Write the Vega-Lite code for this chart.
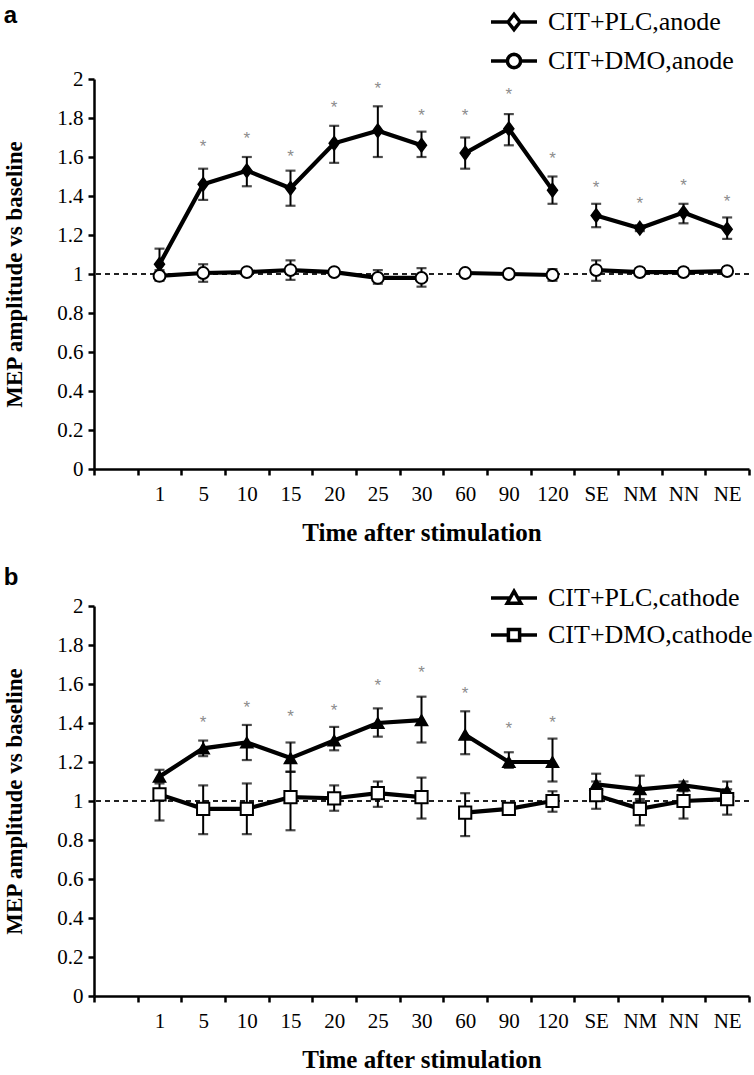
{
  "$schema": "https://vega.github.io/schema/vega-lite/v6.json",
  "background": "white",
  "padding": {"left": 3, "top": 0, "right": 2, "bottom": 0},
  "spacing": 21,
  "datasets": {
    "a": [
      {"series": "CIT+PLC,anode", "grp": "P1", "time": "1", "v": 1.05, "lo": 0.98, "hi": 1.13, "star": null},
      {"series": "CIT+PLC,anode", "grp": "P1", "time": "5", "v": 1.46, "lo": 1.38, "hi": 1.54, "star": 1.65},
      {"series": "CIT+PLC,anode", "grp": "P1", "time": "10", "v": 1.53, "lo": 1.45, "hi": 1.60, "star": 1.69},
      {"series": "CIT+PLC,anode", "grp": "P1", "time": "15", "v": 1.44, "lo": 1.35, "hi": 1.53, "star": 1.60},
      {"series": "CIT+PLC,anode", "grp": "P1", "time": "20", "v": 1.67, "lo": 1.57, "hi": 1.76, "star": 1.85},
      {"series": "CIT+PLC,anode", "grp": "P1", "time": "25", "v": 1.735, "lo": 1.60, "hi": 1.86, "star": 1.95},
      {"series": "CIT+PLC,anode", "grp": "P1", "time": "30", "v": 1.66, "lo": 1.60, "hi": 1.73, "star": 1.81},
      {"series": "CIT+PLC,anode", "grp": "P2", "time": "60", "v": 1.62, "lo": 1.54, "hi": 1.70, "star": 1.81},
      {"series": "CIT+PLC,anode", "grp": "P2", "time": "90", "v": 1.745, "lo": 1.66, "hi": 1.82, "star": 1.92},
      {"series": "CIT+PLC,anode", "grp": "P2", "time": "120", "v": 1.43, "lo": 1.36, "hi": 1.50, "star": 1.59},
      {"series": "CIT+PLC,anode", "grp": "P3", "time": "SE", "v": 1.30, "lo": 1.24, "hi": 1.36, "star": 1.44},
      {"series": "CIT+PLC,anode", "grp": "P3", "time": "NM", "v": 1.235, "lo": 1.22, "hi": 1.25, "star": 1.36},
      {"series": "CIT+PLC,anode", "grp": "P3", "time": "NN", "v": 1.315, "lo": 1.26, "hi": 1.36, "star": 1.45},
      {"series": "CIT+PLC,anode", "grp": "P3", "time": "NE", "v": 1.23, "lo": 1.18, "hi": 1.29, "star": 1.37},
      {"series": "CIT+DMO,anode", "grp": "D1", "time": "1", "v": 0.99, "lo": 0.965, "hi": 1.02, "star": null},
      {"series": "CIT+DMO,anode", "grp": "D1", "time": "5", "v": 1.005, "lo": 0.96, "hi": 1.05, "star": null},
      {"series": "CIT+DMO,anode", "grp": "D1", "time": "10", "v": 1.01, "lo": 1.0, "hi": 1.02, "star": null},
      {"series": "CIT+DMO,anode", "grp": "D1", "time": "15", "v": 1.02, "lo": 0.97, "hi": 1.07, "star": null},
      {"series": "CIT+DMO,anode", "grp": "D1", "time": "20", "v": 1.01, "lo": 1.0, "hi": 1.02, "star": null},
      {"series": "CIT+DMO,anode", "grp": "D1", "time": "25", "v": 0.98, "lo": 0.95, "hi": 1.02, "star": null},
      {"series": "CIT+DMO,anode", "grp": "D1", "time": "30", "v": 0.98, "lo": 0.935, "hi": 1.03, "star": null},
      {"series": "CIT+DMO,anode", "grp": "D2", "time": "60", "v": 1.005, "lo": 0.995, "hi": 1.015, "star": null},
      {"series": "CIT+DMO,anode", "grp": "D2", "time": "90", "v": 1.0, "lo": 0.99, "hi": 1.01, "star": null},
      {"series": "CIT+DMO,anode", "grp": "D2", "time": "120", "v": 0.995, "lo": 0.965, "hi": 1.025, "star": null},
      {"series": "CIT+DMO,anode", "grp": "D3", "time": "SE", "v": 1.02, "lo": 0.965, "hi": 1.07, "star": null},
      {"series": "CIT+DMO,anode", "grp": "D3", "time": "NM", "v": 1.01, "lo": 0.99, "hi": 1.03, "star": null},
      {"series": "CIT+DMO,anode", "grp": "D3", "time": "NN", "v": 1.01, "lo": 0.99, "hi": 1.03, "star": null},
      {"series": "CIT+DMO,anode", "grp": "D3", "time": "NE", "v": 1.015, "lo": 0.995, "hi": 1.035, "star": null}
    ],
    "b": [
      {"series": "CIT+PLC,cathode", "grp": "P1", "time": "1", "v": 1.125, "lo": 1.10, "hi": 1.16, "star": null},
      {"series": "CIT+PLC,cathode", "grp": "P1", "time": "5", "v": 1.27, "lo": 1.23, "hi": 1.31, "star": 1.40},
      {"series": "CIT+PLC,cathode", "grp": "P1", "time": "10", "v": 1.30, "lo": 1.21, "hi": 1.39, "star": 1.475},
      {"series": "CIT+PLC,cathode", "grp": "P1", "time": "15", "v": 1.22, "lo": 1.15, "hi": 1.30, "star": 1.43},
      {"series": "CIT+PLC,cathode", "grp": "P1", "time": "20", "v": 1.31, "lo": 1.26, "hi": 1.38, "star": 1.46},
      {"series": "CIT+PLC,cathode", "grp": "P1", "time": "25", "v": 1.40, "lo": 1.33, "hi": 1.475, "star": 1.59},
      {"series": "CIT+PLC,cathode", "grp": "P1", "time": "30", "v": 1.415, "lo": 1.30, "hi": 1.535, "star": 1.655},
      {"series": "CIT+PLC,cathode", "grp": "P2", "time": "60", "v": 1.34, "lo": 1.24, "hi": 1.46, "star": 1.55},
      {"series": "CIT+PLC,cathode", "grp": "P2", "time": "90", "v": 1.20, "lo": 1.17, "hi": 1.25, "star": 1.37},
      {"series": "CIT+PLC,cathode", "grp": "P2", "time": "120", "v": 1.20, "lo": 1.10, "hi": 1.32, "star": 1.40},
      {"series": "CIT+PLC,cathode", "grp": "P3", "time": "SE", "v": 1.085, "lo": 1.03, "hi": 1.14, "star": null},
      {"series": "CIT+PLC,cathode", "grp": "P3", "time": "NM", "v": 1.06, "lo": 1.0, "hi": 1.13, "star": null},
      {"series": "CIT+PLC,cathode", "grp": "P3", "time": "NN", "v": 1.08, "lo": 1.05, "hi": 1.10, "star": null},
      {"series": "CIT+PLC,cathode", "grp": "P3", "time": "NE", "v": 1.05, "lo": 1.01, "hi": 1.10, "star": null},
      {"series": "CIT+DMO,cathode", "grp": "D1", "time": "1", "v": 1.034, "lo": 0.90, "hi": 1.09, "star": null},
      {"series": "CIT+DMO,cathode", "grp": "D1", "time": "5", "v": 0.96, "lo": 0.83, "hi": 1.08, "star": null},
      {"series": "CIT+DMO,cathode", "grp": "D1", "time": "10", "v": 0.96, "lo": 0.83, "hi": 1.09, "star": null},
      {"series": "CIT+DMO,cathode", "grp": "D1", "time": "15", "v": 1.02, "lo": 0.85, "hi": 1.15, "star": null},
      {"series": "CIT+DMO,cathode", "grp": "D1", "time": "20", "v": 1.014, "lo": 0.95, "hi": 1.08, "star": null},
      {"series": "CIT+DMO,cathode", "grp": "D1", "time": "25", "v": 1.04, "lo": 0.97, "hi": 1.10, "star": null},
      {"series": "CIT+DMO,cathode", "grp": "D1", "time": "30", "v": 1.02, "lo": 0.91, "hi": 1.12, "star": null},
      {"series": "CIT+DMO,cathode", "grp": "D2", "time": "60", "v": 0.94, "lo": 0.82, "hi": 1.04, "star": null},
      {"series": "CIT+DMO,cathode", "grp": "D2", "time": "90", "v": 0.96, "lo": 0.95, "hi": 0.97, "star": null},
      {"series": "CIT+DMO,cathode", "grp": "D2", "time": "120", "v": 1.0, "lo": 0.945, "hi": 1.05, "star": null},
      {"series": "CIT+DMO,cathode", "grp": "D3", "time": "SE", "v": 1.03, "lo": 0.96, "hi": 1.10, "star": null},
      {"series": "CIT+DMO,cathode", "grp": "D3", "time": "NM", "v": 0.96, "lo": 0.875, "hi": 1.01, "star": null},
      {"series": "CIT+DMO,cathode", "grp": "D3", "time": "NN", "v": 1.0, "lo": 0.91, "hi": 1.06, "star": null},
      {"series": "CIT+DMO,cathode", "grp": "D3", "time": "NE", "v": 1.01, "lo": 0.93, "hi": 1.06, "star": null}
    ]
  },
  "vconcat": [
    {
      "width": 655,
      "height": 390,
      "title": {"text": "a", "anchor": "start", "frame": "bounds", "font": "Liberation Sans", "fontSize": 24, "fontWeight": "bold", "color": "black", "offset": -28},
      "data": {"name": "a"},
      "layer": [
        {"mark": {"type": "rule", "strokeDash": [5, 4], "strokeWidth": 1.3, "color": "#222"},
         "encoding": {"y": {"datum": 1, "type": "quantitative", "scale": {"domain": [0, 2], "nice": false}, "axis": {"title": "MEP amplitude vs baseline", "values": [0, 0.2, 0.4, 0.6, 0.8, 1, 1.2, 1.4, 1.6, 1.8, 2], "format": "~g", "labelPadding": 5, "titlePadding": 30, "titleFontSize": 23}}}},
        {"mark": {"type": "rule", "strokeWidth": 2, "color": "black"},
         "encoding": {
           "x": {"field": "time", "type": "nominal", "bandPosition": 0.5, "sort": null, "scale": {"type": "band", "domain": ["", "1", "5", "10", "15", "20", "25", "30", "60", "90", "120", "SE", "NM", "NN", "NE"], "paddingInner": 0, "paddingOuter": 0}, "axis": {"title": "Time after stimulation", "tickBand": "extent", "labelAngle": 0, "labelPadding": 8, "titlePadding": 16, "titleFontSize": 25}},
           "y": {"field": "lo", "type": "quantitative", "scale": {"domain": [0, 2], "nice": false}, "axis": {"title": "MEP amplitude vs baseline", "values": [0, 0.2, 0.4, 0.6, 0.8, 1, 1.2, 1.4, 1.6, 1.8, 2], "format": "~g", "labelPadding": 5, "titlePadding": 30, "titleFontSize": 23}},
           "y2": {"field": "hi"}}},
        {"mark": {"type": "tick", "thickness": 2.2, "size": 10, "color": "black"},
         "encoding": {
           "x": {"field": "time", "type": "nominal", "bandPosition": 0.5, "sort": null, "scale": {"type": "band", "domain": ["", "1", "5", "10", "15", "20", "25", "30", "60", "90", "120", "SE", "NM", "NN", "NE"], "paddingInner": 0, "paddingOuter": 0}, "axis": {"title": "Time after stimulation", "tickBand": "extent", "labelAngle": 0, "labelPadding": 8, "titlePadding": 16, "titleFontSize": 25}},
           "y": {"field": "lo", "type": "quantitative", "scale": {"domain": [0, 2], "nice": false}, "axis": {"title": "MEP amplitude vs baseline", "values": [0, 0.2, 0.4, 0.6, 0.8, 1, 1.2, 1.4, 1.6, 1.8, 2], "format": "~g", "labelPadding": 5, "titlePadding": 30, "titleFontSize": 23}}}},
        {"mark": {"type": "tick", "thickness": 2.2, "size": 10, "color": "black"},
         "encoding": {
           "x": {"field": "time", "type": "nominal", "bandPosition": 0.5, "sort": null, "scale": {"type": "band", "domain": ["", "1", "5", "10", "15", "20", "25", "30", "60", "90", "120", "SE", "NM", "NN", "NE"], "paddingInner": 0, "paddingOuter": 0}, "axis": {"title": "Time after stimulation", "tickBand": "extent", "labelAngle": 0, "labelPadding": 8, "titlePadding": 16, "titleFontSize": 25}},
           "y": {"field": "hi", "type": "quantitative", "scale": {"domain": [0, 2], "nice": false}, "axis": {"title": "MEP amplitude vs baseline", "values": [0, 0.2, 0.4, 0.6, 0.8, 1, 1.2, 1.4, 1.6, 1.8, 2], "format": "~g", "labelPadding": 5, "titlePadding": 30, "titleFontSize": 23}}}},
        {"mark": {"type": "line", "strokeWidth": 4.2, "color": "black"},
         "encoding": {
           "x": {"field": "time", "type": "nominal", "bandPosition": 0.5, "sort": null, "scale": {"type": "band", "domain": ["", "1", "5", "10", "15", "20", "25", "30", "60", "90", "120", "SE", "NM", "NN", "NE"], "paddingInner": 0, "paddingOuter": 0}, "axis": {"title": "Time after stimulation", "tickBand": "extent", "labelAngle": 0, "labelPadding": 8, "titlePadding": 16, "titleFontSize": 25}},
           "y": {"field": "v", "type": "quantitative", "scale": {"domain": [0, 2], "nice": false}, "axis": {"title": "MEP amplitude vs baseline", "values": [0, 0.2, 0.4, 0.6, 0.8, 1, 1.2, 1.4, 1.6, 1.8, 2], "format": "~g", "labelPadding": 5, "titlePadding": 30, "titleFontSize": 23}},
           "detail": {"field": "grp", "type": "nominal"}}},
        {"mark": {"type": "point", "filled": true, "size": 1, "stroke": "black", "strokeWidth": 2, "opacity": 1},
         "encoding": {
           "x": {"field": "time", "type": "nominal", "bandPosition": 0.5, "sort": null, "scale": {"type": "band", "domain": ["", "1", "5", "10", "15", "20", "25", "30", "60", "90", "120", "SE", "NM", "NN", "NE"], "paddingInner": 0, "paddingOuter": 0}, "axis": {"title": "Time after stimulation", "tickBand": "extent", "labelAngle": 0, "labelPadding": 8, "titlePadding": 16, "titleFontSize": 25}},
           "y": {"field": "v", "type": "quantitative", "scale": {"domain": [0, 2], "nice": false}, "axis": {"title": "MEP amplitude vs baseline", "values": [0, 0.2, 0.4, 0.6, 0.8, 1, 1.2, 1.4, 1.6, 1.8, 2], "format": "~g", "labelPadding": 5, "titlePadding": 30, "titleFontSize": 23}},
           "shape": {"field": "series", "type": "nominal", "scale": {"domain": ["CIT+PLC,anode", "CIT+DMO,anode"], "range": ["M-1.15,0L-0.3,0M0.3,0L1.15,0M0,-0.38L0.3,0L0,0.38L-0.3,0Z", "M-1.15,0L-0.33,0M0.33,0L1.15,0M0.33,0L0.305,0.126L0.233,0.233L0.126,0.305L0,0.33L-0.126,0.305L-0.233,0.233L-0.305,0.126L-0.33,0L-0.305,-0.126L-0.233,-0.233L-0.126,-0.305L0,-0.33L0.126,-0.305L0.233,-0.233L0.305,-0.126Z"]},
             "legend": {"title": null, "orient": "none", "legendX": 398, "legendY": -79, "direction": "vertical", "labelFont": "Liberation Serif", "labelFontSize": 26, "labelColor": "black", "labelLimit": 0, "symbolSize": 1600, "rowPadding": 2, "labelOffset": 12, "symbolStrokeWidth": 3.5, "symbolOpacity": 1}},
           "fill": {"field": "series", "type": "nominal", "scale": {"domain": ["CIT+PLC,anode", "CIT+DMO,anode"], "range": ["white", "white"]}, "legend": null}}},
        {"transform": [{"filter": "datum.series === 'CIT+PLC,anode'"}],
         "mark": {"type": "point", "shape": "M0,-1.15L0.85,0L0,1.15L-0.85,0Z", "filled": true, "fill": "black", "stroke": "black", "strokeWidth": 1.5, "size": 140, "opacity": 1},
         "encoding": {
           "x": {"field": "time", "type": "nominal", "bandPosition": 0.5, "sort": null, "scale": {"type": "band", "domain": ["", "1", "5", "10", "15", "20", "25", "30", "60", "90", "120", "SE", "NM", "NN", "NE"], "paddingInner": 0, "paddingOuter": 0}, "axis": {"title": "Time after stimulation", "tickBand": "extent", "labelAngle": 0, "labelPadding": 8, "titlePadding": 16, "titleFontSize": 25}},
           "y": {"field": "v", "type": "quantitative", "scale": {"domain": [0, 2], "nice": false}, "axis": {"title": "MEP amplitude vs baseline", "values": [0, 0.2, 0.4, 0.6, 0.8, 1, 1.2, 1.4, 1.6, 1.8, 2], "format": "~g", "labelPadding": 5, "titlePadding": 30, "titleFontSize": 23}}}},
        {"transform": [{"filter": "datum.series === 'CIT+DMO,anode'"}],
         "mark": {"type": "point", "shape": "circle", "filled": true, "fill": "white", "stroke": "black", "strokeWidth": 2, "size": 140, "opacity": 1},
         "encoding": {
           "x": {"field": "time", "type": "nominal", "bandPosition": 0.5, "sort": null, "scale": {"type": "band", "domain": ["", "1", "5", "10", "15", "20", "25", "30", "60", "90", "120", "SE", "NM", "NN", "NE"], "paddingInner": 0, "paddingOuter": 0}, "axis": {"title": "Time after stimulation", "tickBand": "extent", "labelAngle": 0, "labelPadding": 8, "titlePadding": 16, "titleFontSize": 25}},
           "y": {"field": "v", "type": "quantitative", "scale": {"domain": [0, 2], "nice": false}, "axis": {"title": "MEP amplitude vs baseline", "values": [0, 0.2, 0.4, 0.6, 0.8, 1, 1.2, 1.4, 1.6, 1.8, 2], "format": "~g", "labelPadding": 5, "titlePadding": 30, "titleFontSize": 23}}}},
        {"mark": {"type": "text", "text": "*", "color": "#8c8c8c", "fontSize": 17, "font": "Liberation Sans", "baseline": "middle"},
         "encoding": {
           "x": {"field": "time", "type": "nominal", "bandPosition": 0.5, "sort": null, "scale": {"type": "band", "domain": ["", "1", "5", "10", "15", "20", "25", "30", "60", "90", "120", "SE", "NM", "NN", "NE"], "paddingInner": 0, "paddingOuter": 0}, "axis": {"title": "Time after stimulation", "tickBand": "extent", "labelAngle": 0, "labelPadding": 8, "titlePadding": 16, "titleFontSize": 25}},
           "y": {"field": "star", "type": "quantitative", "scale": {"domain": [0, 2], "nice": false}, "axis": {"title": "MEP amplitude vs baseline", "values": [0, 0.2, 0.4, 0.6, 0.8, 1, 1.2, 1.4, 1.6, 1.8, 2], "format": "~g", "labelPadding": 5, "titlePadding": 30, "titleFontSize": 23}}}}
      ]
    },
    {
      "width": 655,
      "height": 390,
      "title": {"text": "b", "anchor": "start", "frame": "bounds", "font": "Liberation Sans", "fontSize": 24, "fontWeight": "bold", "color": "black", "offset": -14},
      "data": {"name": "b"},
      "layer": [
        {"mark": {"type": "rule", "strokeDash": [5, 4], "strokeWidth": 1.3, "color": "#222"},
         "encoding": {"y": {"datum": 1, "type": "quantitative", "scale": {"domain": [0, 2], "nice": false}, "axis": {"title": "MEP amplitude vs baseline", "values": [0, 0.2, 0.4, 0.6, 0.8, 1, 1.2, 1.4, 1.6, 1.8, 2], "format": "~g", "labelPadding": 5, "titlePadding": 30, "titleFontSize": 23}}}},
        {"mark": {"type": "rule", "strokeWidth": 2, "color": "black"},
         "encoding": {
           "x": {"field": "time", "type": "nominal", "bandPosition": 0.5, "sort": null, "scale": {"type": "band", "domain": ["", "1", "5", "10", "15", "20", "25", "30", "60", "90", "120", "SE", "NM", "NN", "NE"], "paddingInner": 0, "paddingOuter": 0}, "axis": {"title": "Time after stimulation", "tickBand": "extent", "labelAngle": 0, "labelPadding": 8, "titlePadding": 16, "titleFontSize": 25}},
           "y": {"field": "lo", "type": "quantitative", "scale": {"domain": [0, 2], "nice": false}, "axis": {"title": "MEP amplitude vs baseline", "values": [0, 0.2, 0.4, 0.6, 0.8, 1, 1.2, 1.4, 1.6, 1.8, 2], "format": "~g", "labelPadding": 5, "titlePadding": 30, "titleFontSize": 23}},
           "y2": {"field": "hi"}}},
        {"mark": {"type": "tick", "thickness": 2.2, "size": 10, "color": "black"},
         "encoding": {
           "x": {"field": "time", "type": "nominal", "bandPosition": 0.5, "sort": null, "scale": {"type": "band", "domain": ["", "1", "5", "10", "15", "20", "25", "30", "60", "90", "120", "SE", "NM", "NN", "NE"], "paddingInner": 0, "paddingOuter": 0}, "axis": {"title": "Time after stimulation", "tickBand": "extent", "labelAngle": 0, "labelPadding": 8, "titlePadding": 16, "titleFontSize": 25}},
           "y": {"field": "lo", "type": "quantitative", "scale": {"domain": [0, 2], "nice": false}, "axis": {"title": "MEP amplitude vs baseline", "values": [0, 0.2, 0.4, 0.6, 0.8, 1, 1.2, 1.4, 1.6, 1.8, 2], "format": "~g", "labelPadding": 5, "titlePadding": 30, "titleFontSize": 23}}}},
        {"mark": {"type": "tick", "thickness": 2.2, "size": 10, "color": "black"},
         "encoding": {
           "x": {"field": "time", "type": "nominal", "bandPosition": 0.5, "sort": null, "scale": {"type": "band", "domain": ["", "1", "5", "10", "15", "20", "25", "30", "60", "90", "120", "SE", "NM", "NN", "NE"], "paddingInner": 0, "paddingOuter": 0}, "axis": {"title": "Time after stimulation", "tickBand": "extent", "labelAngle": 0, "labelPadding": 8, "titlePadding": 16, "titleFontSize": 25}},
           "y": {"field": "hi", "type": "quantitative", "scale": {"domain": [0, 2], "nice": false}, "axis": {"title": "MEP amplitude vs baseline", "values": [0, 0.2, 0.4, 0.6, 0.8, 1, 1.2, 1.4, 1.6, 1.8, 2], "format": "~g", "labelPadding": 5, "titlePadding": 30, "titleFontSize": 23}}}},
        {"mark": {"type": "line", "strokeWidth": 4.2, "color": "black"},
         "encoding": {
           "x": {"field": "time", "type": "nominal", "bandPosition": 0.5, "sort": null, "scale": {"type": "band", "domain": ["", "1", "5", "10", "15", "20", "25", "30", "60", "90", "120", "SE", "NM", "NN", "NE"], "paddingInner": 0, "paddingOuter": 0}, "axis": {"title": "Time after stimulation", "tickBand": "extent", "labelAngle": 0, "labelPadding": 8, "titlePadding": 16, "titleFontSize": 25}},
           "y": {"field": "v", "type": "quantitative", "scale": {"domain": [0, 2], "nice": false}, "axis": {"title": "MEP amplitude vs baseline", "values": [0, 0.2, 0.4, 0.6, 0.8, 1, 1.2, 1.4, 1.6, 1.8, 2], "format": "~g", "labelPadding": 5, "titlePadding": 30, "titleFontSize": 23}},
           "detail": {"field": "grp", "type": "nominal"}}},
        {"mark": {"type": "point", "filled": true, "size": 1, "stroke": "black", "strokeWidth": 2, "opacity": 1},
         "encoding": {
           "x": {"field": "time", "type": "nominal", "bandPosition": 0.5, "sort": null, "scale": {"type": "band", "domain": ["", "1", "5", "10", "15", "20", "25", "30", "60", "90", "120", "SE", "NM", "NN", "NE"], "paddingInner": 0, "paddingOuter": 0}, "axis": {"title": "Time after stimulation", "tickBand": "extent", "labelAngle": 0, "labelPadding": 8, "titlePadding": 16, "titleFontSize": 25}},
           "y": {"field": "v", "type": "quantitative", "scale": {"domain": [0, 2], "nice": false}, "axis": {"title": "MEP amplitude vs baseline", "values": [0, 0.2, 0.4, 0.6, 0.8, 1, 1.2, 1.4, 1.6, 1.8, 2], "format": "~g", "labelPadding": 5, "titlePadding": 30, "titleFontSize": 23}},
           "shape": {"field": "series", "type": "nominal", "scale": {"domain": ["CIT+PLC,cathode", "CIT+DMO,cathode"], "range": ["M-1.15,0L-0.2,0M0.2,0L1.15,0M0,-0.34L0.34,0.26L-0.34,0.26Z", "M-1.15,0L-0.28,0M0.28,0L1.15,0M-0.28,-0.28L0.28,-0.28L0.28,0.28L-0.28,0.28Z"]},
             "legend": {"title": null, "orient": "none", "legendX": 398, "legendY": -30, "direction": "vertical", "labelFont": "Liberation Serif", "labelFontSize": 26, "labelColor": "black", "labelLimit": 0, "symbolSize": 1600, "rowPadding": 2, "labelOffset": 12, "symbolStrokeWidth": 3.5, "symbolOpacity": 1}},
           "fill": {"field": "series", "type": "nominal", "scale": {"domain": ["CIT+PLC,cathode", "CIT+DMO,cathode"], "range": ["white", "white"]}, "legend": null}}},
        {"transform": [{"filter": "datum.series === 'CIT+PLC,cathode'"}],
         "mark": {"type": "point", "shape": "triangle-up", "filled": true, "fill": "black", "stroke": "black", "strokeWidth": 1.5, "size": 150, "opacity": 1},
         "encoding": {
           "x": {"field": "time", "type": "nominal", "bandPosition": 0.5, "sort": null, "scale": {"type": "band", "domain": ["", "1", "5", "10", "15", "20", "25", "30", "60", "90", "120", "SE", "NM", "NN", "NE"], "paddingInner": 0, "paddingOuter": 0}, "axis": {"title": "Time after stimulation", "tickBand": "extent", "labelAngle": 0, "labelPadding": 8, "titlePadding": 16, "titleFontSize": 25}},
           "y": {"field": "v", "type": "quantitative", "scale": {"domain": [0, 2], "nice": false}, "axis": {"title": "MEP amplitude vs baseline", "values": [0, 0.2, 0.4, 0.6, 0.8, 1, 1.2, 1.4, 1.6, 1.8, 2], "format": "~g", "labelPadding": 5, "titlePadding": 30, "titleFontSize": 23}}}},
        {"transform": [{"filter": "datum.series === 'CIT+DMO,cathode'"}],
         "mark": {"type": "point", "shape": "square", "filled": true, "fill": "white", "stroke": "black", "strokeWidth": 2, "size": 150, "opacity": 1},
         "encoding": {
           "x": {"field": "time", "type": "nominal", "bandPosition": 0.5, "sort": null, "scale": {"type": "band", "domain": ["", "1", "5", "10", "15", "20", "25", "30", "60", "90", "120", "SE", "NM", "NN", "NE"], "paddingInner": 0, "paddingOuter": 0}, "axis": {"title": "Time after stimulation", "tickBand": "extent", "labelAngle": 0, "labelPadding": 8, "titlePadding": 16, "titleFontSize": 25}},
           "y": {"field": "v", "type": "quantitative", "scale": {"domain": [0, 2], "nice": false}, "axis": {"title": "MEP amplitude vs baseline", "values": [0, 0.2, 0.4, 0.6, 0.8, 1, 1.2, 1.4, 1.6, 1.8, 2], "format": "~g", "labelPadding": 5, "titlePadding": 30, "titleFontSize": 23}}}},
        {"mark": {"type": "text", "text": "*", "color": "#8c8c8c", "fontSize": 17, "font": "Liberation Sans", "baseline": "middle"},
         "encoding": {
           "x": {"field": "time", "type": "nominal", "bandPosition": 0.5, "sort": null, "scale": {"type": "band", "domain": ["", "1", "5", "10", "15", "20", "25", "30", "60", "90", "120", "SE", "NM", "NN", "NE"], "paddingInner": 0, "paddingOuter": 0}, "axis": {"title": "Time after stimulation", "tickBand": "extent", "labelAngle": 0, "labelPadding": 8, "titlePadding": 16, "titleFontSize": 25}},
           "y": {"field": "star", "type": "quantitative", "scale": {"domain": [0, 2], "nice": false}, "axis": {"title": "MEP amplitude vs baseline", "values": [0, 0.2, 0.4, 0.6, 0.8, 1, 1.2, 1.4, 1.6, 1.8, 2], "format": "~g", "labelPadding": 5, "titlePadding": 30, "titleFontSize": 23}}}}
      ]
    }
  ],
  "resolve": {"scale": {"shape": "independent", "fill": "independent"}, "legend": {"shape": "independent", "fill": "independent"}},
  "config": {
    "view": {"stroke": null},
    "axis": {"domainColor": "black", "domainWidth": 2.5, "tickColor": "black", "tickWidth": 2.5, "tickSize": 6, "labelFont": "Liberation Serif", "labelFontSize": 21, "labelColor": "black", "titleFont": "Liberation Serif", "titleFontWeight": "bold", "titleColor": "black", "grid": false}
  }
}
